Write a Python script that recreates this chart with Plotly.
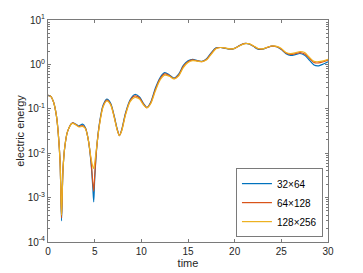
import plotly.graph_objects as go

time = [0, 0.3, 0.6, 0.9, 1.1, 1.3, 1.45, 1.6, 1.8, 2.1,
        2.6, 3.0, 3.3, 3.7, 4.0, 4.3, 4.6, 4.8, 4.9, 5.0,
        5.2, 5.5, 5.9, 6.3, 6.7, 7.1, 7.4, 7.65, 7.9, 8.3,
        8.8, 9.3, 9.8, 10.2, 10.6, 11.0, 11.5, 12.0, 12.5, 13.0,
        13.5, 14.0, 14.5, 15.0, 15.5, 16.0, 16.5, 17.0, 17.5, 18.0,
        18.5, 19.0, 19.5, 20.0, 20.5, 21.0, 21.5, 22.0, 22.5, 23.0,
        23.5, 24.0, 24.5, 25.0, 25.5, 26.0, 26.5, 27.0, 27.5, 28.0,
        28.5, 29.0, 29.5, 30.0]

e_32x64 = [0.20, 0.19, 0.14, 0.07, 0.028, 0.006, 0.0003, 0.004, 0.014, 0.031,
           0.048, 0.045, 0.041, 0.045, 0.038, 0.021, 0.0065, 0.0017, 0.0008, 0.0025,
           0.012, 0.045, 0.12, 0.165, 0.135, 0.068, 0.036, 0.025, 0.034, 0.08,
           0.16, 0.21, 0.185, 0.135, 0.107, 0.14, 0.29, 0.5, 0.65, 0.58,
           0.49, 0.6, 0.95, 1.2, 1.3, 1.22, 1.17, 1.35, 1.85, 2.35,
           2.4, 2.3, 2.2, 2.3, 2.65, 2.95, 2.9, 2.55, 2.2, 2.2,
           2.4, 2.57, 2.5, 2.15, 1.75, 1.6, 1.66, 1.76, 1.6, 1.25,
           0.97, 0.93, 1.02, 1.15]

e_64x128 = [0.20, 0.19, 0.14, 0.07, 0.028, 0.006, 0.00035, 0.004, 0.014, 0.031,
            0.048, 0.044, 0.040, 0.042, 0.037, 0.021, 0.007, 0.0022, 0.0014, 0.003,
            0.012, 0.043, 0.115, 0.157, 0.128, 0.065, 0.035, 0.025, 0.033, 0.076,
            0.152, 0.195, 0.175, 0.13, 0.106, 0.135, 0.27, 0.47, 0.61, 0.56,
            0.48, 0.57, 0.9, 1.15, 1.26, 1.2, 1.16, 1.3, 1.78, 2.3,
            2.4, 2.32, 2.22, 2.3, 2.62, 2.93, 2.92, 2.6, 2.25, 2.22,
            2.42, 2.58, 2.52, 2.22, 1.8, 1.68, 1.75, 1.85, 1.72, 1.38,
            1.1, 1.08, 1.15, 1.25]

e_128x256 = [0.20, 0.19, 0.14, 0.07, 0.028, 0.006, 0.0004, 0.004, 0.014, 0.031,
             0.047, 0.043, 0.039, 0.040, 0.036, 0.021, 0.008, 0.005, 0.0045, 0.006,
             0.013, 0.041, 0.11, 0.15, 0.124, 0.063, 0.034, 0.025, 0.032, 0.072,
             0.145, 0.18, 0.165, 0.125, 0.105, 0.13, 0.25, 0.44, 0.57, 0.54,
             0.47, 0.55, 0.85, 1.1, 1.22, 1.18, 1.15, 1.27, 1.7, 2.25,
             2.4, 2.33, 2.23, 2.3, 2.6, 2.9, 2.93, 2.63, 2.28, 2.24,
             2.44, 2.6, 2.55, 2.27, 1.85, 1.75, 1.82, 1.95, 1.85, 1.45,
             1.17, 1.15, 1.2, 1.3]

series = [("32×64", e_32x64, "#0072BD"),
          ("64×128", e_64x128, "#D95319"),
          ("128×256", e_128x256, "#EDB120")]

x_ticks = [0, 5, 10, 15, 20, 25, 30]
y_exps = [-4, -3, -2, -1, 0, 1]

fig = go.Figure()
for name, vals, col in series:
    fig.add_trace(go.Scatter(x=time, y=vals, mode="lines", name=name,
                             line=dict(color=col, width=1.2, shape="spline", smoothing=0.8)))

axis_col = "#7a7a7a"
text_col = "#262626"
font = dict(family="Liberation Sans, Arial, sans-serif", size=10, color=text_col)

minor_vals = [m * 10 ** e for e in y_exps[:-1] for m in range(2, 10)]

fig.update_layout(
    width=363, height=273,
    margin=dict(l=48, r=35, t=20, b=31, autoexpand=False),
    paper_bgcolor="white", plot_bgcolor="white",
    font=font,
    showlegend=True,
    legend=dict(x=0.982, y=0.022, xanchor="right", yanchor="bottom",
                bgcolor="white", bordercolor=axis_col, borderwidth=1,
                font=dict(family="Liberation Sans, Arial, sans-serif", size=10, color="black"),
                itemwidth=30, tracegroupgap=0),
    xaxis=dict(range=[0, 30], tickvals=x_ticks, ticks="inside", ticklen=3,
               tickcolor=axis_col, showline=True, linecolor=axis_col, linewidth=1,
               mirror="ticks", showgrid=False, zeroline=False, automargin=False,
               title=dict(text="time", standoff=2, font=dict(size=11, color=text_col))),
    yaxis=dict(type="log", range=[-4, 1],
               tickvals=[10 ** e for e in y_exps],
               ticktext=["10<sup>%d</sup>" % e for e in y_exps],
               ticks="inside", ticklen=3, tickcolor=axis_col,
               minor=dict(tickvals=minor_vals, ticks="inside", ticklen=2, tickcolor=axis_col),
               showline=True, linecolor=axis_col, linewidth=1, mirror="ticks",
               showgrid=False, zeroline=False, automargin=False,
               title=dict(text="electric energy", standoff=0, font=dict(size=11, color=text_col))),
)

fig.write_html("out.html", config={"displayModeBar": False},
               post_script="document.body.style.margin='0';document.body.style.overflow='hidden';")
